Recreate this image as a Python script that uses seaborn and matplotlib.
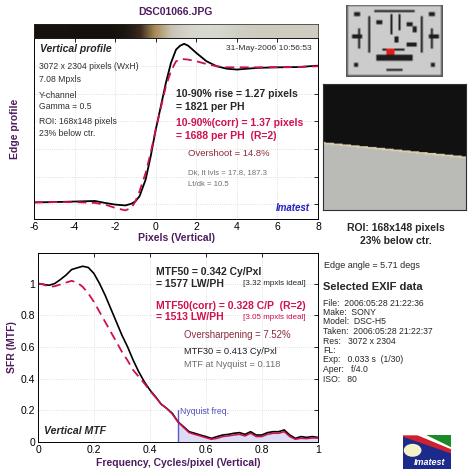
import numpy as np
import pandas as pd
import matplotlib
matplotlib.use('Agg')
import matplotlib.pyplot as plt
from matplotlib.colors import LinearSegmentedColormap
from matplotlib.patches import Polygon, Circle, Rectangle
import seaborn as sns

# edge profile (x in pixels, level in tick units)
edge_x = [-6, -5, -4, -3, -2.5, -2, -1.5, -1.2, -1, -0.8, -0.5, -0.25, 0, 0.25, 0.5, 0.75,
          1, 1.2, 1.4, 1.6, 2, 2.5, 3, 3.5, 4, 4.5, 5, 6, 7, 8]
edge_black = [0.07, 0.08, 0.10, 0.12, 0.05, -0.01, -0.04, 0.02, 0.11, 0.29, 0.89, 1.73, 2.70,
              3.54, 4.39, 5.11, 5.59, 5.73, 5.80, 5.73, 5.47, 5.17, 4.99, 4.90, 4.87, 4.90,
              4.93, 4.95, 4.96, 5.01]
edge_xr = [-6, -5, -4, -3, -2.5, -2, -1.5, -1.2, -1, -0.8, -0.5, -0.25, 0, 0.25, 0.5, 0.75,
           1, 1.3, 1.6, 2, 2.5, 3, 3.5, 4, 5, 6, 7, 8]
edge_red = [0.07, 0.08, 0.08, 0.05, -0.01, -0.13, -0.22, -0.13, 0.11, 0.47, 1.13, 1.86, 2.70,
            3.48, 4.27, 4.81, 5.17, 5.25, 5.23, 5.17, 5.07, 4.99, 4.95, 4.95, 4.95, 4.96,
            4.96, 4.99]

# MTF
freq = [i / 50 for i in range(51)]
mtf = [1.000, 0.994, 0.989, 1.000, 1.025, 1.053, 1.088, 1.099, 1.109, 1.101, 1.063, 1.000,
       0.926, 0.842, 0.758, 0.674, 0.601, 0.517, 0.443, 0.380, 0.328, 0.286, 0.239, 0.212,
       0.181, 0.128, 0.097, 0.065, 0.055, 0.044, 0.034, 0.023, 0.034, 0.044, 0.048, 0.055,
       0.059, 0.048, 0.065, 0.044, 0.044, 0.059, 0.065, 0.065, 0.076, 0.044, 0.023, 0.034,
       0.029, 0.034, 0.029]
mtf_corr = [1.000, 0.994, 0.979, 0.983, 0.994, 1.006, 1.017, 1.006, 0.979, 0.937, 0.884,
            0.821, 0.758, 0.695, 0.632, 0.569, 0.515, 0.454, 0.412, 0.370, 0.324, 0.282,
            0.239, 0.212, 0.176, 0.128, 0.092, 0.059, 0.048, 0.038, 0.027, 0.017, 0.023,
            0.034, 0.038, 0.044, 0.048, 0.038, 0.055, 0.034, 0.034, 0.048, 0.055, 0.055,
            0.065, 0.034, 0.017, 0.023, 0.021, 0.025, 0.025]
nyquist = 0.5
edge_angle = 5.71
roi_w, roi_h = 168, 148

exif = ["File:  2006:05:28 21:22:36", "Make:  SONY", "Model:  DSC-H5",
        "Taken:  2006:05:28 21:22:37", "Res:   3072 x 2304", "FL:",
        "Exp:   0.033 s  (1/30)", "Aper:   f/4.0", "ISO:   80"]

sns.set_style('white')
plt.rcParams['font.family'] = ['Liberation Sans', 'DejaVu Sans']
plt.rcParams['axes.unicode_minus'] = False

purple = '#4e1c5e'
crimson = '#d0104c'
dkred = '#8a2a3a'
gray = '#6e6e6e'
blue = '#2020c0'

fig = plt.figure(figsize=(4.75, 4.75), dpi=100)
fig.text(0.37, 0.975, 'DSC01066.JPG', ha='center', va='center', fontsize=7.5,
         fontweight='bold', color=purple)

def style_axes(ax):
    ax.tick_params(direction='in', top=True, right=True, length=3, width=0.6,
                   labelsize=7.5, pad=2, colors='black')
    for s in ax.spines.values():
        s.set_linewidth(0.7)
        s.set_color('black')
    ax.grid(True, linestyle=':', color='#d6d6d6', linewidth=0.6)

# ---- edge profile ----
ax1 = fig.add_axes([0.0716, 0.539, 0.598, 0.381])
sns.lineplot(x=edge_x, y=edge_black, ax=ax1, color='black', linewidth=1.3)
sns.lineplot(x=edge_xr, y=edge_red, ax=ax1, color=crimson, linewidth=1.3)
ax1.lines[1].set_dashes((5, 3))
ax1.set_xlim(-6, 8)
ax1.set_ylim(-0.53, 6.01)
ax1.set_xticks(range(-6, 9, 2))
ax1.set_yticks(range(0, 6))
ax1.set_yticklabels([])
style_axes(ax1)
ax1.set_xlabel('Pixels (Vertical)', fontsize=7.5, fontweight='bold', color=purple, labelpad=1)
ax1.set_ylabel('Edge profile', fontsize=7.5, fontweight='bold', color=purple, labelpad=8)

t = ax1.transAxes
ax1.text(0.021, 0.94, 'Vertical profile', transform=t, fontsize=7.5, fontweight='bold',
         fontstyle='italic', va='center')
ax1.text(0.979, 0.94, '31-May-2006 10:56:53', transform=t, fontsize=6.1, ha='right', va='center',
         color='#303030')
for txt, yy in [('3072 x 2304 pixels (WxH)', 0.84), ('7.08 Mpxls', 0.773), ('Y-channel', 0.68),
                ('Gamma = 0.5', 0.619), ('ROI: 168x148 pixels', 0.541), ('23% below ctr.', 0.475)]:
    ax1.text(0.018, yy, txt, transform=t, fontsize=6.2, va='center', color='#303030')
ax1.text(0.5, 0.69, '10-90% rise = 1.27 pixels', transform=t, fontsize=7.5, fontweight='bold', va='center')
ax1.text(0.5, 0.62, '= 1821 per PH', transform=t, fontsize=7.5, fontweight='bold', va='center')
ax1.text(0.5, 0.53, '10-90%(corr) = 1.37 pixels', transform=t, fontsize=7.5, fontweight='bold',
         va='center', color=crimson)
ax1.text(0.5, 0.46, '= 1688 per PH  (R=2)', transform=t, fontsize=7.5, fontweight='bold',
         va='center', color=crimson)
ax1.text(0.543, 0.36, 'Overshoot = 14.8%', transform=t, fontsize=6.8, va='center', color=dkred)
ax1.text(0.543, 0.254, 'Dk, lt lvls = 17.8, 187.3', transform=t, fontsize=5.6, va='center', color=gray)
ax1.text(0.543, 0.193, 'Lt/dk = 10.5', transform=t, fontsize=5.6, va='center', color=gray)
ax1.text(0.972, 0.06, 'Imatest', transform=t, fontsize=7, fontweight='bold', fontstyle='italic',
         ha='right', va='center', color=blue)

# gradient bar above profile
axg = fig.add_axes([0.0716, 0.92, 0.598, 0.0295])
bar_cmap = LinearSegmentedColormap.from_list('edge', ['#15100c', '#3a2a20', '#a88a58', '#c8c4b4', '#d8d8d0'])
axg.imshow(np.array([edge_black]), aspect='auto', cmap=bar_cmap, vmin=0, vmax=5.8,
           extent=(min(edge_x), max(edge_x), 0, 1), interpolation='bilinear')
axg.set_xlim(-6, 8)
axg.set_xticks([])
axg.set_yticks([])
for s in axg.spines.values():
    s.set_linewidth(0.5)

# ---- MTF ----
ax2 = fig.add_axes([0.08, 0.0695, 0.589, 0.398])
df = pd.DataFrame({'f': freq, 'mtf': mtf, 'corr': mtf_corr})
hi = df[df.f >= nyquist]
ax2.fill_between(hi.f, 0, hi.mtf, color='#dcdcf4', linewidth=0)
ax2.plot([nyquist, nyquist], [0, 0.2], color='#5858c8', linewidth=1)
ax2.text(nyquist + 0.006, 0.19, 'Nyquist freq.', fontsize=6.2, color='#5050c0', va='center')
sns.lineplot(data=df, x='f', y='mtf', ax=ax2, color='black', linewidth=1.2)
lo = df[df.f <= 0.42]
sns.lineplot(data=lo, x='f', y='corr', ax=ax2, color=crimson, linewidth=1.3)
ax2.lines[-1].set_dashes((5, 3))
sns.lineplot(data=df[df.f >= 0.42], x='f', y='corr', ax=ax2, color=crimson, linewidth=1.1)
ax2.set_xlim(0, 1)
ax2.set_ylim(0, 1.193)
ax2.set_xticks([0, 0.2, 0.4, 0.6, 0.8, 1])
ax2.set_xticklabels(['0', '0.2', '0.4', '0.6', '0.8', '1'])
ax2.set_yticks([0, 0.2, 0.4, 0.6, 0.8, 1])
ax2.set_yticklabels(['0', '0.2', '0.4', '0.6', '0.8', '1'])
style_axes(ax2)
ax2.set_xlabel('Frequency, Cycles/pixel (Vertical)', fontsize=7.5, fontweight='bold', color=purple,
               labelpad=2)
ax2.set_ylabel('SFR (MTF)', fontsize=7.5, fontweight='bold', color=purple, labelpad=3)

t = ax2.transAxes
ax2.text(0.42, 0.90, 'MTF50 = 0.342 Cy/Pxl', transform=t, fontsize=7.5, fontweight='bold', va='center')
ax2.text(0.42, 0.836, '= 1577 LW/PH', transform=t, fontsize=7.5, fontweight='bold', va='center')
ax2.text(0.957, 0.836, '[3.32 mpxls ideal]', transform=t, fontsize=5.8, ha='right', va='center')
ax2.text(0.42, 0.72, 'MTF50(corr) = 0.328 C/P  (R=2)', transform=t, fontsize=7.5, fontweight='bold',
         va='center', color=crimson)
ax2.text(0.42, 0.66, '= 1513 LW/PH', transform=t, fontsize=7.5, fontweight='bold', va='center',
         color=crimson)
ax2.text(0.957, 0.66, '[3.05 mpxls ideal]', transform=t, fontsize=5.8, ha='right', va='center',
         color=crimson)
ax2.text(0.523, 0.566, 'Oversharpening = 7.52%', transform=t, fontsize=6.9, va='center', color=dkred)
ax2.text(0.523, 0.48, 'MTF30 = 0.413 Cy/Pxl', transform=t, fontsize=6.7, va='center', color='#202020')
ax2.text(0.523, 0.41, 'MTF at Nyquist = 0.118', transform=t, fontsize=6.7, va='center', color=gray)
ax2.text(0.02, 0.06, 'Vertical MTF', transform=t, fontsize=7.6, fontweight='bold', fontstyle='italic',
         va='center')

# ---- chart thumbnail ----
axt = fig.add_axes([0.728, 0.838, 0.204, 0.152])
thumb = np.full((36, 48, 3), 0.80)
thumb[:1, :] = thumb[-1:, :] = 0.35
thumb[:, :1] = thumb[:, -1:] = 0.35
for r0, r1, c0, c1 in [(4, 6, 4, 7), (4, 6, 41, 44), (15, 17, 3, 8), (15, 17, 41, 46), (12, 22, 6, 7),
                       (12, 22, 42, 43), (5, 15, 22, 23), (5, 13, 26, 27), (11, 14, 33, 35),
                       (16, 19, 24, 26), (25, 28, 15, 33), (22, 23, 18, 29), (29, 31, 4, 6),
                       (29, 31, 42, 44), (6, 24, 11, 12), (6, 24, 37, 38), (32, 33, 20, 28),
                       (8, 10, 15, 18), (9, 11, 30, 33), (19, 21, 30, 35), (3, 4, 14, 34)]:
    thumb[r0:r1, c0:c1] = 0.12
thumb[22:25, 20:24] = [0.9, 0.1, 0.1]
axt.imshow(thumb, aspect='auto', interpolation='bilinear')
axt.set_axis_off()

# ---- ROI image ----
axr = fig.add_axes([0.68, 0.558, 0.301, 0.265])
rows = np.arange(roi_h)[:, None]
cols = np.arange(roi_w)[None, :]
edge_row = 69 + np.tan(np.radians(edge_angle)) * cols
roi = np.where(rows < edge_row, 0.07, 0.73)
roi_rgb = np.dstack([roi, roi, roi * 0.98])
band = np.abs(rows - edge_row) < 1.2
roi_rgb[band] = [0.85, 0.80, 0.68]
axr.imshow(roi_rgb, aspect='auto', interpolation='bilinear')
axr.set_xticks([])
axr.set_yticks([])
for s in axr.spines.values():
    s.set_linewidth(0.8)
    s.set_color('#303030')

# ---- right side text ----
fig.text(0.834, 1 - 228 / 475, 'ROI: 168x148 pixels', ha='center', va='center', fontsize=7.5,
         fontweight='bold')
fig.text(0.834, 1 - 241 / 475, '23% below ctr.', ha='center', va='center', fontsize=7.5,
         fontweight='bold')
fig.text(324 / 475, 1 - 265 / 475, 'Edge angle = 5.71 degs', va='center', fontsize=6.5)
fig.text(323 / 475, 1 - 287 / 475, 'Selected EXIF data', va='center', fontsize=8, fontweight='bold')
for i, line in enumerate(exif):
    fig.text(323 / 475, 1 - (303 + 9.5 * i) / 475, line, va='center', fontsize=6.2)

# ---- logo ----
axl = fig.add_axes([403 / 475, 1 - 469 / 475, 48 / 475, 34 / 475])
axl.set_xlim(0, 1)
axl.set_ylim(0, 1)
axl.add_patch(Rectangle((0, 0), 1, 1, color='#1c2a8c'))
axl.add_patch(Polygon([(0.45, 1), (1, 1), (1, 0.62)], color='#1a8a2a'))
axl.add_patch(Polygon([(0.0, 1), (0.45, 1), (1, 0.62), (1, 0.5)], color='white'))
axl.add_patch(Polygon([(0.0, 0.97), (0.3, 0.97), (1, 0.56), (1, 0.48)], color='#d02030'))
axl.add_patch(Circle((0.2, 0.55), 0.17, color='#f6f2c8'))
axl.text(0.55, 0.18, 'Imatest', fontsize=6.5, fontweight='bold', fontstyle='italic', color='white',
         ha='center', va='center')
axl.set_axis_off()

fig.savefig('out.png', dpi=100)
